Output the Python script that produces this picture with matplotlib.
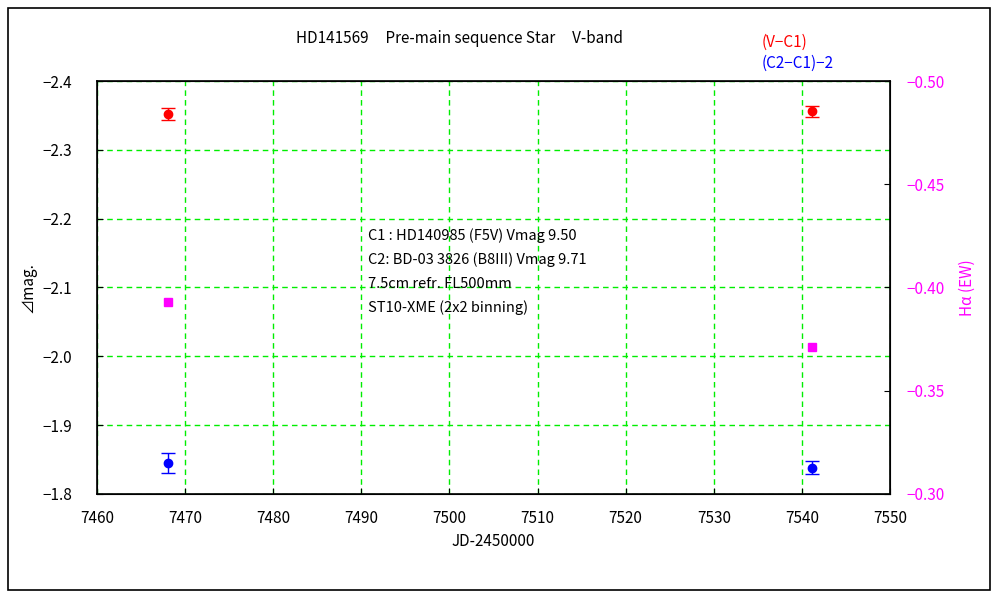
#coding:utf-8
# HD141569 V-band differential photometry + H-alpha EW

import matplotlib
matplotlib.use("Agg")
import matplotlib.pyplot as plt
from matplotlib.patches import Rectangle

plt.rcParams['font.family'] = ['Noto Sans CJK JP', 'DejaVu Sans']

jd = [7468.1, 7541.2]
v_c1 = [-2.352, -2.356]
v_c1_err = [0.009, 0.008]
c2_c1 = [-1.845, -1.838]
c2_c1_err = [0.015, 0.009]
ha_jd = [7468.1, 7541.2]
ha_ew = [-0.393, -0.371]

xticks = [7460, 7470, 7480, 7490, 7500, 7510, 7520, 7530, 7540, 7550]
yticks = [-2.4, -2.3, -2.2, -2.1, -2.0, -1.9, -1.8]
rticks = [-0.50, -0.45, -0.40, -0.35, -0.30]

notes = ["C1 : HD140985 (F5V) Vmag 9.50",
         "C2: BD-03 3826 (B8III) Vmag 9.71",
         "7.5cm refr. FL500mm",
         "ST10-XME (2x2 binning)"]

fig = plt.figure(figsize=(10, 6), dpi=100)
fig.patches.append(Rectangle((0.008, 0.017), 0.982, 0.97, transform=fig.transFigure,
                             fill=False, edgecolor='black', linewidth=1.2))

ax = fig.add_axes([0.097, 0.177, 0.793, 0.688])
ax.set_xlim(7460, 7550)
ax.set_ylim(-1.8, -2.4)
ax.set_xticks(xticks)
ax.set_yticks(yticks)
ax.set_yticklabels(["\u2212%.1f" % abs(v) for v in yticks])
ax.grid(True, color='#00ee00', linestyle=(0, (4, 3)), linewidth=1)
ax.tick_params(direction='in', length=4, labelsize=11, colors='black')
ax.tick_params(axis='y', pad=18)
ax.tick_params(axis='x', pad=12)
for s in ax.spines.values():
    s.set_linewidth(1.2)

ax.errorbar(jd, v_c1, yerr=v_c1_err, fmt='o', color='red', ecolor='red',
            markersize=6, capsize=5, elinewidth=1, zorder=5)
ax.errorbar(jd, c2_c1, yerr=c2_c1_err, fmt='o', color='blue', ecolor='blue',
            markersize=6, capsize=5, elinewidth=1, zorder=5)

ax.set_xlabel("JD-2450000", fontsize=11)
ax.set_ylabel("⊿mag.", fontsize=11, labelpad=4)

ax2 = ax.twinx()
ax2.set_ylim(-0.30, -0.50)
ax2.set_yticks(rticks)
ax2.set_yticklabels(["\u2212%.2f" % abs(v) for v in rticks])
ax2.tick_params(direction='in', length=4, labelsize=11, labelcolor='magenta', color='black', pad=12)
ax2.plot(ha_jd, ha_ew, 's', color='magenta', markersize=6, zorder=5)
ax2.set_ylabel("Hα (EW)", color='magenta', fontsize=11, labelpad=10)

for i, t in enumerate(notes):
    ax.text(0.342, 0.625 - i * 0.058, t, transform=ax.transAxes, fontsize=10.5,
            va='center', ha='left')

fig.text(0.46, 0.936, "HD141569     Pre-main sequence Star     V-band",
         ha='center', va='center', fontsize=11)
fig.text(0.762, 0.93, "(V\u2212C1)", color='red', fontsize=11, va='center')
fig.text(0.762, 0.894, "(C2\u2212C1)\u22122", color='blue', fontsize=11, va='center')

plt.savefig("out.png", dpi=100)
